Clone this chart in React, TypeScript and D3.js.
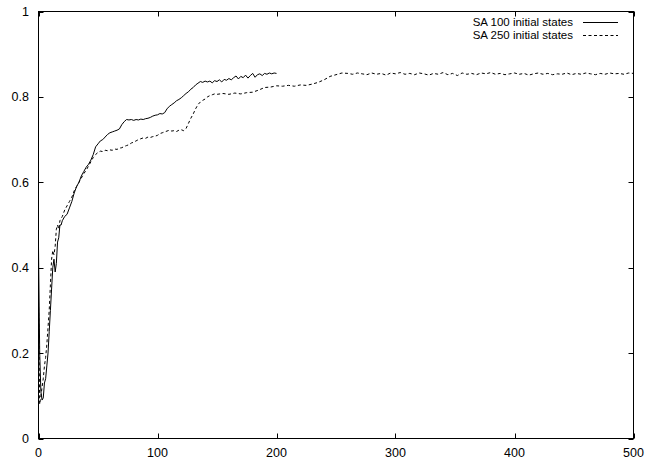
import React from "react";
import * as d3 from "d3";

const xTicks = [0, 100, 200, 300, 400, 500];
const yTicks = [0, 0.2, 0.4, 0.6, 0.8, 1];
const seriesNames = ["SA 100 initial states", "SA 250 initial states"];

const sa100X = [0,1,2,3,4,5,6,7,8,9,10,11,12,13,14,15,16,17,18,19,20,22,24,26,28,30,32,34,36,38,40,42,44,46,48,50,52,54,56,58,60,62,64,66,68,70,72,74,76,78,80,82,84,86,88,90,92,94,96,98,100,102,104,106,108,110,112,114,116,118,120,122,124,126,128,130,132,134,136,138,140,142,144,146,148,150,152,154,156,158,160,162,164,166,168,170,172,174,176,178,180,182,184,186,188,190,192,194,196,198,200];
const sa100Y = [0.45,0.2,0.11,0.09,0.095,0.13,0.14,0.17,0.2,0.25,0.3,0.35,0.4,0.42,0.39,0.41,0.46,0.47,0.5,0.5,0.51,0.52,0.525,0.54,0.555,0.575,0.59,0.6,0.615,0.625,0.635,0.642,0.652,0.665,0.683,0.69,0.697,0.7,0.706,0.712,0.716,0.718,0.72,0.722,0.725,0.735,0.742,0.747,0.746,0.747,0.745,0.747,0.746,0.748,0.747,0.749,0.75,0.752,0.755,0.757,0.758,0.761,0.76,0.763,0.772,0.778,0.782,0.786,0.791,0.794,0.798,0.803,0.808,0.812,0.818,0.822,0.828,0.832,0.836,0.834,0.837,0.835,0.837,0.833,0.838,0.836,0.84,0.835,0.841,0.839,0.843,0.84,0.845,0.849,0.842,0.848,0.845,0.851,0.844,0.85,0.855,0.846,0.852,0.854,0.85,0.855,0.853,0.856,0.854,0.856,0.855];

const sa250X = [0,1,2,3,4,5,6,7,8,9,10,11,12,13,14,15,16,17,18,20,22,24,26,28,30,32,34,36,38,40,42,44,46,48,50,52,54,56,58,60,62,64,66,68,70,72,74,76,78,80,82,84,86,88,90,92,94,96,98,100,102,104,106,108,110,112,114,116,118,120,122,124,126,128,130,132,134,136,138,140,142,144,146,148,150,155,160,165,170,175,180,185,190,195,200,205,210,215,220,225,230,235,240,245,250,255,260,264,268,272,276,280,284,288,292,296,300,304,308,312,316,320,324,328,332,336,340,344,348,352,356,360,364,368,372,376,380,384,388,392,396,400,404,408,412,416,420,424,428,432,436,440,444,448,452,456,460,464,468,472,476,480,484,488,492,496,500];
const sa250Y = [0.32,0.08,0.1,0.12,0.14,0.17,0.19,0.22,0.26,0.3,0.36,0.42,0.44,0.43,0.45,0.49,0.5,0.49,0.51,0.52,0.535,0.545,0.555,0.565,0.58,0.59,0.6,0.61,0.62,0.628,0.638,0.648,0.658,0.665,0.67,0.673,0.672,0.675,0.674,0.676,0.675,0.678,0.677,0.68,0.681,0.684,0.686,0.688,0.692,0.694,0.697,0.7,0.702,0.704,0.703,0.706,0.705,0.707,0.708,0.71,0.714,0.716,0.718,0.72,0.722,0.72,0.721,0.719,0.722,0.723,0.721,0.726,0.738,0.75,0.76,0.772,0.782,0.788,0.792,0.795,0.8,0.803,0.805,0.807,0.806,0.808,0.806,0.809,0.807,0.81,0.811,0.816,0.822,0.823,0.826,0.825,0.827,0.825,0.828,0.827,0.83,0.834,0.84,0.848,0.852,0.856,0.855,0.853,0.856,0.854,0.852,0.856,0.853,0.855,0.851,0.856,0.854,0.857,0.853,0.855,0.852,0.856,0.854,0.851,0.855,0.853,0.857,0.852,0.855,0.85,0.856,0.853,0.855,0.852,0.856,0.854,0.857,0.853,0.855,0.852,0.854,0.856,0.853,0.855,0.851,0.854,0.856,0.853,0.855,0.852,0.854,0.853,0.856,0.852,0.855,0.853,0.856,0.854,0.852,0.855,0.853,0.856,0.854,0.855,0.853,0.856,0.855];

const W = 646;
const H = 461;
const FONT = "'Liberation Sans', Arial, Helvetica, sans-serif";

export default function App() {
  const x = d3.scaleLinear().domain([0, 500]).range([38.5, 633.5]);
  const y = d3.scaleLinear().domain([0, 1]).range([438.5, 11.5]);
  const line = d3
    .line<[number, number]>()
    .x((d) => x(d[0]))
    .y((d) => y(d[1]));
  const s1 = sa100X.map((v, i) => [v, sa100Y[i]] as [number, number]);
  const s2 = sa250X.map((v, i) => [v, sa250Y[i]] as [number, number]);
  const tl = 5;
  const [x0, x1] = x.range();
  const [y0, y1] = y.range();
  const legendGap = 13;

  return (
    <svg
      width={W}
      height={H}
      style={{ position: "absolute", left: 0, top: 0, background: "#fff" }}
      fontFamily={FONT}
    >
      <rect x={0} y={0} width={W} height={H} fill="#fff" />
      {xTicks.map((t) => (
        <g key={"x" + t}>
          <line x1={Math.round(x(t)) + 0.5} x2={Math.round(x(t)) + 0.5} y1={y0} y2={y0 - tl} stroke="#000" />
          <line x1={Math.round(x(t)) + 0.5} x2={Math.round(x(t)) + 0.5} y1={y1} y2={y1 + tl} stroke="#000" />
          <text x={x(t)} y={457} textAnchor="middle" fontSize={12.5} fill="#000">
            {t}
          </text>
        </g>
      ))}
      {yTicks.map((t) => (
        <g key={"y" + t}>
          <line x1={x0} x2={x0 + tl} y1={Math.round(y(t)) + 0.5} y2={Math.round(y(t)) + 0.5} stroke="#000" />
          <line x1={x1} x2={x1 - tl} y1={Math.round(y(t)) + 0.5} y2={Math.round(y(t)) + 0.5} stroke="#000" />
          <text x={29} y={y(t) + 4.5} textAnchor="end" fontSize={12.5} fill="#000">
            {d3.format("~g")(t)}
          </text>
        </g>
      ))}
      <path d={line(s1) || ""} fill="none" stroke="#000" strokeWidth={1} />
      <path d={line(s2) || ""} fill="none" stroke="#000" strokeWidth={1} strokeDasharray="3,2.5" />
      <rect x={x0} y={y1} width={x1 - x0} height={y0 - y1} fill="none" stroke="#000" strokeWidth={1} />
      {seriesNames.map((name, i) => (
        <g key={name}>
          <text x={573} y={26 + i * legendGap} textAnchor="end" fontSize={11.5} fill="#000">
            {name}
          </text>
          <line
            x1={583}
            x2={618}
            y1={22.5 + i * legendGap}
            y2={22.5 + i * legendGap}
            stroke="#000"
            strokeDasharray={i === 1 ? "3,2.5" : undefined}
          />
        </g>
      ))}
    </svg>
  );
}
